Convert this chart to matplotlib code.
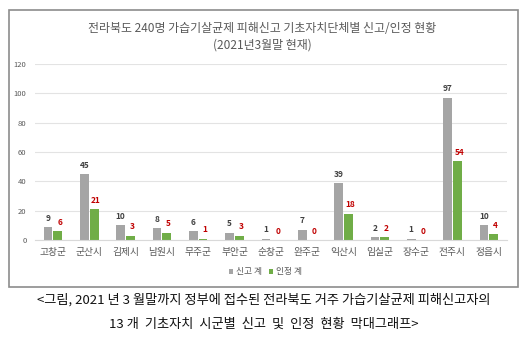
import numpy as np
import matplotlib.pyplot as plt
from matplotlib.patches import Rectangle

plt.rcParams['font.family'] = ['Noto Sans CJK KR', 'DejaVu Sans']

# 시군별 가습기살균제 피해 신고 / 인정 건수 (2021년 3월말)
시군 = ['고창군', '군산시', '김제시', '남원시', '무주군', '부안군', '순창군',
      '완주군', '익산시', '임실군', '장수군', '전주시', '정읍시']
신고 = [9, 45, 10, 8, 6, 5, 1, 7, 39, 2, 1, 97, 10]
인정 = [6, 21, 3, 5, 1, 3, 0, 0, 18, 2, 0, 54, 4]

gray = '#A5A5A5'
green = '#70AD47'

fig = plt.figure(figsize=(5.27, 3.43), dpi=100)

# 차트 테두리
fig.patches.append(Rectangle((0.017, 0.163), 0.966, 0.808, transform=fig.transFigure,
                             fill=False, edgecolor='#8C8C8C', linewidth=1.2))

ax = fig.add_axes([0.066, 0.300, 0.896, 0.513])
x = np.arange(len(시군))
w = 0.24
b1 = ax.bar(x - w / 2 - 0.015, 신고, w, color=gray, label='신고 계')
b2 = ax.bar(x + w / 2 + 0.015, 인정, w, color=green, label='인정 계')

for rect, v in zip(b1, 신고):
    ax.text(rect.get_x() + rect.get_width() / 2, v + 3, str(v), ha='center', va='bottom',
            fontsize=6, fontweight='bold', color='#404040')
for rect, v in zip(b2, 인정):
    ax.text(rect.get_x() + rect.get_width() / 2 + 0.05, v + 3, str(v), ha='center', va='bottom',
            fontsize=6, fontweight='bold', color='#C00000')

ax.set_xlim(-0.5, len(시군) - 0.5)
ax.set_ylim(0, 120)
ax.set_yticks(range(0, 121, 20))
ax.set_xticks(x)
ax.set_xticklabels(시군, fontsize=7, color='#595959')
ax.tick_params(axis='y', labelsize=5.5, labelcolor='#595959', length=0, pad=6)
ax.tick_params(axis='x', length=0, pad=5)
ax.grid(axis='y', color='#E3E3E3', linewidth=0.8)
ax.set_axisbelow(True)
for s in ['top', 'right', 'left']:
    ax.spines[s].set_visible(False)
ax.spines['bottom'].set_color('#D9D9D9')

fig.legend(handles=[b1, b2], loc='center', bbox_to_anchor=(0.503, 0.207), ncol=2,
           frameon=False, fontsize=6.3, labelcolor='#595959', handlelength=0.5,
           handleheight=0.5, handletextpad=0.3, columnspacing=0.8)

fig.text(0.497, 0.918, '전라북도 240명 가습기살균제 피해신고 기초자치단체별 신고/인정 현황',
         ha='center', va='center', fontsize=8.6, color='#595959')
fig.text(0.497, 0.869, '(2021년3월말 현재)', ha='center', va='center',
         fontsize=8.6, color='#595959')

fig.text(0.5, 0.125, '<그림, 2021 년 3 월말까지 정부에 접수된 전라북도 거주 가습기살균제 피해신고자의',
         ha='center', va='center', fontsize=9.5, color='#111111')
fig.text(0.5, 0.055, '13 개  기초자치  시군별  신고  및  인정  현황  막대그래프>',
         ha='center', va='center', fontsize=9.5, color='#111111')

fig.savefig('out.png', dpi=100)
